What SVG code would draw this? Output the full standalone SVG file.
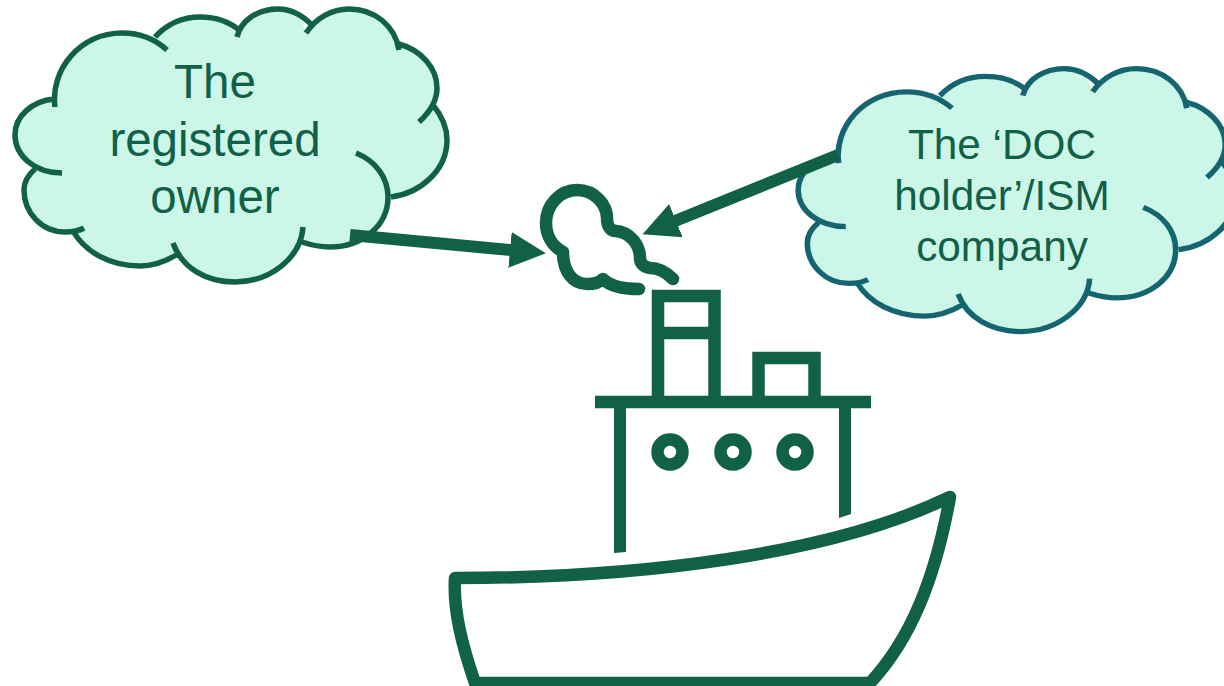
<svg xmlns="http://www.w3.org/2000/svg" width="1224" height="686" viewBox="0 0 1224 686">
<style>
.cf{fill:#ccf7e8;stroke:none}
.cs{fill:none;stroke-width:5.5}
.t{font-family:"Liberation Sans",Arial,sans-serif;fill:#116149;text-anchor:middle}
.s{fill:none;stroke:#116149;stroke-width:12.5}
.b{fill:#116149;stroke:none}
.a{stroke:#116149;stroke-width:12;fill:none;marker-end:url(#ah)}
</style>
<defs>
<marker id="ah" markerUnits="userSpaceOnUse" markerWidth="38" markerHeight="38" viewBox="0 0 38 38" refX="1" refY="19" orient="auto"><path d="M0 1L36 19L0 37Z" fill="#116149"/></marker>
<g id="cloud">
<path class="cf" d="M55 107C50 70 80 33 122 33C135 33 146 36 155 37C167 24 183 17 200 17C216 17 230 22 237 37C241 20 258 9 278 9C291 9 302 15 306 33C316 18 332 9 349 9C375 9 395 26 399 44C421 50 437 68 437 88C437 95 435 100 433 105C442 116 447 127 447 140C447 170 421 193 388 197C388 226 362 247 330 247C320 247 311 245 302 242C295 262 270 282 235 282C206 282 187 270 178 254C165 262 152 266 140 266C110 266 85 252 73 231C70 232 68 232 65 232C42 232 24 213 24 190C24 181 28 175 35 169C25 160 15 150 15 135C15 116 32 101 55 99Z"/>
<path class="cs" d="M55 107C50 70 80 33 122 33C140 33 155 39 167 50M155 37C167 24 183 17 200 17C216 17 230 22 240 31M237 37C241 20 258 9 278 9C291 9 302 15 312 25M306 33C316 18 332 9 349 9C375 9 395 26 399 50M399 44C421 50 437 68 437 88C437 101 430 112 419 122M433 105C442 116 447 127 447 140C447 170 421 193 391 197M356 153C376 161 388 178 388 197C388 226 362 247 330 247C320 247 311 245 302 242M303 227C301 258 270 282 235 282C206 282 182 268 173 243M178 254C165 262 152 266 140 266C110 266 85 252 73 231M84 228C77 232 70 232 65 232C42 232 24 213 24 190C24 181 28 175 35 169M62 173C35 173 15 156 15 135C15 116 32 101 54 99"/>
</g>
</defs>
<g id="ship">
<path class="s" stroke-linejoin="round" d="M455 578C640 578 830 555 950 497C935 580 910 640 870 683L475 683C462 645 453 610 455 578Z"/>
<path class="b" d="M614 402H626V552L614 553ZM839 402H851V514L839 518Z"/>
<path class="s" d="M595 402H871M658 402V296H714.500V402M658 333H714.500M758.500 402V358H814.500V402"/>
<circle class="s" cx="670" cy="452" r="12.500"/>
<circle class="s" cx="733" cy="452" r="12.500"/>
<circle class="s" cx="795" cy="452" r="12.500"/>
</g>
<g id="smoke">
<path class="s" stroke-linecap="round" stroke-linejoin="round" d="M639 289C622 289 610 286 603 279C599 283 594 284 587 284C573 284 563 272 563 252C552 246 546 235 546 223C546 205 560 190 577 190C595 190 607 205 607 218C607 226 610 231 616 231C630 232 640 245 640 258C640 263 643 267 650 268C658 268 666 272 673 279"/>
</g>
<g id="registered-owner" stroke="#116149">
<use href="#cloud"/>
</g>
<g id="doc-holder" stroke="#156570">
<use href="#cloud" transform="translate(783 60) scale(1.012 .963)"/>
</g>
<g id="connectors">
<line class="a" x1="350" y1="235" x2="511" y2="250"/>
<line class="a" x1="838" y1="155" x2="675" y2="221"/>
</g>
<g id="labels">
<text class="t" font-size="47.500" x="215" y="98">The</text>
<text class="t" font-size="47.500" x="215" y="156">registered</text>
<text class="t" font-size="47.500" x="215" y="213">owner</text>
<text class="t" font-size="42.300" x="1002" y="159">The ‘DOC</text>
<text class="t" font-size="42.300" x="1002" y="210">holder’/ISM</text>
<text class="t" font-size="42.300" x="1002" y="261">company</text>
</g>
</svg>
